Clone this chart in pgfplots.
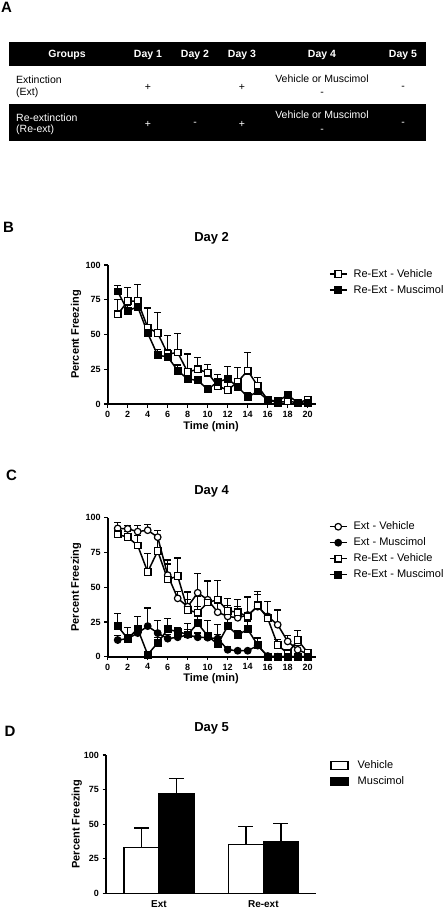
\documentclass[border=0pt]{standalone}
\usepackage{fontspec}
\setmainfont{Liberation Sans}
\usepackage{pgfplots}
\pgfplotsset{compat=1.18}
\usepackage{pgfplotstable}

% Panel B (Day 2)
\pgfplotstableread{
x y e
1 64.5 10.5
2 74 10
3 74 12
4 55 14
5 51 15
6 36 13
7 37 14
8 23 13
9 25 8.5
10 22.5 6
11 13 8
12 10 17
13 16 10
14 24 13
15 13 6
16 3 2
17 1 2
18 2 1
19 1 1
20 3 1
}\BVeh
\pgfplotstableread{
x y e
1 81 4
2 67 4
3 70 3
4 51 4
5 35 4
6 34 5
7 24 4
8 18 3
9 17 3
10 10.5 3
11 16 5
12 18 9
13 12.5 4
14 5 3
15 9 3
16 3 1
17 2 1
18 6.5 1.5
19 1 1
20 0.5 0.5
}\BMus

% Panel C (Day 4)
\pgfplotstableread{
x y e
1 92.3 4.3
2 92 2.5
3 90 4.5
4 91 4.4
5 86 4.6
6 58.7 8
7 42 5
8 36 5
9 46 14
10 41 13
11 32 10
12 29 8
13 28 8
14 30 13
15 36 9
16 29 11
17 23 10.6
18 11 4
19 5 3
20 2 1
}\CExtVeh
\pgfplotstableread{
x y e
1 12 3
2 13 3
3 17 3
4 22 13
5 17 9
6 13 3
7 14 3
8 15.6 4
9 14 3
10 13.7 3
11 13 3
12 5 2
13 4.3 1
14 4.3 1
15 8 2
16 0.5 0.5
17 0 0
18 0 0
19 0 0
20 0 0
}\CExtMus
\pgfplotstableread{
x y e
1 88 5
2 86 4
3 80 7
4 61 13
5 76 9
6 55.6 14
7 58 13
8 33.6 13
9 31.6 12
10 39 16
11 41 14
12 33 9
13 32 9
14 29 14
15 37 10
16 27.6 12
17 8.4 4
18 2.4 2
19 12 6.7
20 3 1
}\CReVeh
\pgfplotstableread{
x y e
1 22 9
2 13 8
3 20 9
4 1.5 2
5 10 4
6 19.7 8
7 18 3
8 16 8
9 24 12
10 15 11
11 9 14
12 22 7
13 15.6 3
14 19.7 6
15 8.4 5
16 0 0
17 0 0
18 0 0
19 0 0
20 0 0
}\CReMus

\pgfplotsset{
  gp/.style={
    scale only axis,
    axis x line*=bottom, axis y line*=left,
    axis line style={line width=1.6pt},
    every tick/.style={black, line width=1.2pt},
    tick align=outside, major tick length=3.5pt,
    ymin=0, ymax=100, ytick={0,25,50,75,100},
    tick label style={font=\fontsize{9}{10}\selectfont\bfseries},
    /pgf/number format/assume math mode=true,
    label style={font=\fontsize{11}{12}\selectfont\bfseries},
    title style={font=\fontsize{13}{14}\selectfont\bfseries},
    ylabel={Percent Freezing},
    clip=false,
    legend style={draw=none, fill=none, font=\fontsize{11}{12}\selectfont,
      inner sep=0pt, row sep=2.5pt},
    legend cell align=left,
  },
  ts/.style={width=208.3pt, height=139pt, xmin=0, xmax=20.83,
    xtick={0,2,...,20}, xlabel={Time (min)},
    ylabel style={at={(axis description cs:-0.152,0.5)}, anchor=center},
    title style={at={(axis description cs:0.499,1.151)}, anchor=center},
    xlabel style={at={(axis description cs:0.496,-0.16)}, anchor=center},
    legend image code/.code={%
      \draw[mark repeat=2,mark phase=2,##1] plot coordinates {(0pt,0pt) (8.35pt,0pt) (16.7pt,0pt)};
      \path (21pt,0pt);},
  },
  ser/.style={black, line width=1.5pt,
    /pgfplots/error bars/y dir=plus, /pgfplots/error bars/y explicit,
    /pgfplots/error bars/error bar style={line width=1.2pt, solid},
    /pgfplots/error bars/error mark options={line width=1.2pt, mark size=3.7pt, rotate=90}},
  osq/.style={mark=square*, mark size=3.3pt, mark options={fill=white, line width=1.2pt, solid}},
  fsq/.style={mark=square*, mark size=3.3pt, mark options={fill=black, line width=1.2pt, solid}},
  oci/.style={mark=*, mark size=3.3pt, mark options={fill=white, line width=1.2pt, solid}},
  fci/.style={mark=*, mark size=3.3pt, mark options={fill=black, line width=1.2pt, solid}},
}

\begin{document}
\begin{tikzpicture}
\useasboundingbox (0pt,0pt) rectangle (444pt,-908pt);

% ---------- Panel A: table ----------
\node[font=\fontsize{15}{16}\selectfont\bfseries, inner sep=0pt] at (6.5pt,-7.5pt) {A};
\fill[black] (9.3pt,-41.7pt) rectangle (426pt,-66pt);
\fill[black] (9.3pt,-104pt) rectangle (426pt,-140.7pt);
\begin{scope}[every node/.style={font=\fontsize{10.5}{12}\selectfont, inner sep=0pt}]
  \begin{scope}[every node/.append style={text=white, font=\fontsize{10.5}{12}\selectfont\bfseries}]
    \node at (67pt,-55pt) {Groups};
    \node at (148pt,-55pt) {Day 1};
    \node at (195pt,-55pt) {Day 2};
    \node at (242pt,-55pt) {Day 3};
    \node at (322pt,-55pt) {Day 4};
    \node at (403pt,-55pt) {Day 5};
  \end{scope}
  \node[anchor=west] at (16pt,-80pt) {Extinction};
  \node[anchor=west] at (16pt,-92.7pt) {(Ext)};
  \node at (148pt,-87.3pt) {+};
  \node at (242pt,-87.3pt) {+};
  \node at (322pt,-78.3pt) {Vehicle or Muscimol};
  \node at (322pt,-94pt) {-};
  \node at (403pt,-88pt) {-};
  \begin{scope}[every node/.append style={text=white}]
    \node[anchor=west] at (16pt,-117.3pt) {Re-extinction};
    \node[anchor=west] at (16pt,-129.3pt) {(Re-ext)};
    \node at (148pt,-124pt) {+};
    \node at (195pt,-124pt) {-};
    \node at (242pt,-124pt) {+};
    \node at (322pt,-115pt) {Vehicle or Muscimol};
    \node at (322pt,-131pt) {-};
    \node at (403pt,-124pt) {-};
  \end{scope}
\end{scope}

% ---------- Panel B ----------
\node[font=\fontsize{15}{16}\selectfont\bfseries, inner sep=0pt] at (8.5pt,-227pt) {B};
\begin{axis}[gp, ts, at={(107.7pt,-404pt)}, anchor=south west,
  title={Day 2},
  legend style={at={(axis description cs:1.062,0.985)}, anchor=north west},
]
\addplot[ser, osq] table[x=x, y=y, y error=e] {\BVeh};
\addlegendentry{Re-Ext - Vehicle}
\addplot[ser, fsq] table[x=x, y=y, y error=e] {\BMus};
\addlegendentry{Re-Ext - Muscimol}
\end{axis}

% ---------- Panel C ----------
\node[font=\fontsize{15}{16}\selectfont\bfseries, inner sep=0pt] at (11.5pt,-475.7pt) {C};
\begin{axis}[gp, ts, at={(107.7pt,-656.7pt)}, anchor=south west,
  title={Day 4},
  title style={at={(axis description cs:0.499,1.146)}},
  legend style={at={(axis description cs:1.062,0.985)}, anchor=north west},
]
\addplot[ser, oci] table[x=x, y=y, y error=e] {\CExtVeh};
\addlegendentry{Ext - Vehicle}
\addplot[ser, fci] table[x=x, y=y, y error=e] {\CExtMus};
\addlegendentry{Ext - Muscimol}
\addplot[ser, osq] table[x=x, y=y, y error=e] {\CReVeh};
\addlegendentry{Re-Ext - Vehicle}
\addplot[ser, fsq] table[x=x, y=y, y error=e] {\CReMus};
\addlegendentry{Re-Ext - Muscimol}
\end{axis}

% ---------- Panel D ----------
\node[font=\fontsize{15}{16}\selectfont\bfseries, inner sep=0pt] at (10pt,-731.7pt) {D};
\begin{axis}[gp, width=210pt, height=138.3pt, at={(106pt,-893.3pt)}, anchor=south west,
  title={Day 5},
  title style={at={(axis description cs:0.503,1.152)}, anchor=center},
  ylabel style={at={(axis description cs:-0.1395,0.5)}, anchor=center},
  xmin=-0.508, xmax=1.505,
  xtick={0,1}, xticklabels={Ext,Re-ext},
  xtick style={draw=none},
  xticklabel style={font=\fontsize{10}{11}\selectfont\bfseries},
  legend style={at={(axis description cs:1.067,0.975)}, anchor=north west},
  legend image code/.code={\draw[#1, line width=1.3pt] (0pt,-4.2pt) rectangle (17pt,4.2pt); \path (24pt,0pt);},
]
\addplot[ybar, bar width=0.335, bar shift=0pt, fill=white, draw=black, line width=1.6pt,
  error bars/.cd, y dir=plus, y explicit,
  error bar style={line width=1.6pt},
  error mark options={line width=1.6pt, mark size=7.5pt, rotate=90}]
  coordinates {(-0.1675,33.2) +- (0,14) (0.8325,35.2) +- (0,13.2)};
\addlegendentry{Vehicle}
\addplot[ybar, bar width=0.335, bar shift=0pt, fill=black, draw=black, line width=1.6pt,
  error bars/.cd, y dir=plus, y explicit,
  error bar style={line width=1.6pt},
  error mark options={line width=1.6pt, mark size=7.5pt, rotate=90}]
  coordinates {(0.1675,71.6) +- (0,11.4) (1.1675,37) +- (0,13.6)};
\addlegendentry{Muscimol}
\end{axis}
\end{tikzpicture}
\end{document}
